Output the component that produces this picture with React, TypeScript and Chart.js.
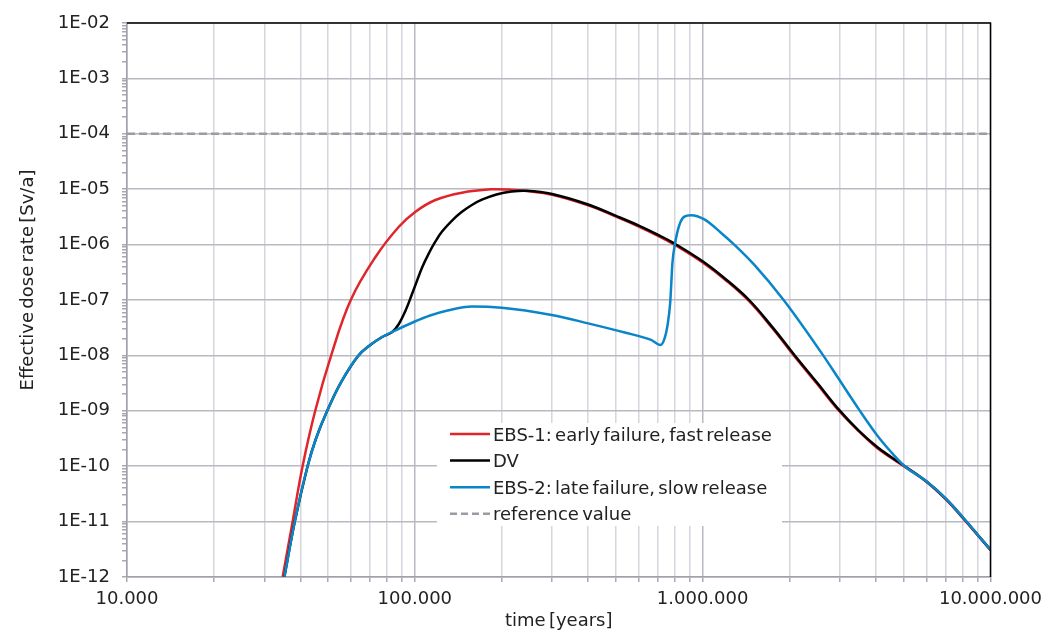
import React, { useEffect, useRef } from "react";
import { Chart, registerables } from "chart.js";

Chart.register(...registerables);

// ---- data (time in years, effective dose rate in Sv/a) ----
const ebs1Time = [34740, 37620, 40740, 45080, 51210, 59900, 73110, 88010, 100550, 117930, 145760, 185150, 211500, 244100, 300000, 400000, 500000, 600000, 700000, 800000, 1000000, 1200000, 1450000, 1750000, 2080000, 2500000, 2980000, 3500000, 4030000, 4500000, 5000000, 6000000, 7050000, 8050000, 10000000];
const ebs1Dose = [1e-12, 1e-11, 1e-10, 1e-9, 1e-8, 1e-7, 6.05e-7, 2.1e-6, 3.93e-6, 6.39e-6, 8.64e-6, 9.96e-6, 9.85e-6, 9.25e-6, 7.9e-6, 5.1e-6, 3.2e-6, 2.12e-6, 1.44e-6, 9.9e-7, 4.75e-7, 2.3e-7, 9.5e-8, 3.05e-8, 9.8e-9, 3.05e-9, 9.9e-10, 4.2e-10, 2.15e-10, 1.44e-10, 1.0e-10, 5.2e-11, 2.42e-11, 1.13e-11, 3.05e-12];

const dvTime = [35220, 38280, 42400, 45300, 49610, 55460, 63740, 70000, 77000, 83470, 88010, 92870, 97630, 100550, 105990, 111800, 117930, 124320, 134640, 145760, 157850, 171000, 192170, 216540, 244100, 300000, 400000, 500000, 600000, 700000, 800000, 1000000, 1200000, 1450000, 1750000, 2080000, 2500000, 2980000, 3500000, 4030000, 4500000, 5000000, 6000000, 7050000, 8050000, 10000000];
const dvDose = [1e-12, 1e-11, 1e-10, 3.1e-10, 1e-9, 3.3e-9, 1e-8, 1.54e-8, 2.15e-8, 2.65e-8, 3.69e-8, 6.46e-8, 1.257e-7, 1.88e-7, 3.86e-7, 6.91e-7, 1.14e-6, 1.72e-6, 2.72e-6, 3.91e-6, 5.19e-6, 6.46e-6, 8.02e-6, 9.05e-6, 9.35e-6, 8.2e-6, 5.3e-6, 3.3e-6, 2.2e-6, 1.5e-6, 1.04e-6, 5.0e-7, 2.4e-7, 1.0e-7, 3.2e-8, 1.03e-8, 3.2e-9, 1.04e-9, 4.3e-10, 2.24e-10, 1.48e-10, 1.03e-10, 5.3e-11, 2.5e-11, 1.16e-11, 3.1e-12];

const ebs2Time = [35220, 38280, 42400, 45300, 49610, 55460, 63740, 70000, 77000, 83470, 100000, 113000, 130000, 158000, 200000, 299000, 400000, 536000, 662000, 714000, 737000, 757000, 771000, 776000, 785000, 802000, 830000, 864000, 912000, 1014000, 1157000, 1290000, 1510000, 1920000, 2630000, 2930000, 3500000, 4030000, 4500000, 5000000, 6000000, 7050000, 8050000, 10000000];
const ebs2Dose = [1e-12, 1e-11, 1e-10, 3.1e-10, 1e-9, 3.3e-9, 1e-8, 1.54e-8, 2.15e-8, 2.65e-8, 4.09e-8, 5.25e-8, 6.46e-8, 7.63e-8, 7.26e-8, 5.36e-8, 3.79e-8, 2.59e-8, 1.9e-8, 1.54e-8, 2.0e-8, 3.8e-8, 8.7e-8, 1.5e-7, 4.6e-7, 1.05e-6, 2.26e-6, 3.2e-6, 3.4e-6, 2.85e-6, 1.64e-6, 9.9e-7, 4.34e-7, 9.7e-8, 9.8e-9, 4.2e-9, 1.04e-9, 3.67e-10, 1.84e-10, 1.03e-10, 5.3e-11, 2.5e-11, 1.16e-11, 3.1e-12];

const refTime = [10000, 10000000];
const refDose = [1e-4, 1e-4];

const xDecades = [1e4, 1e5, 1e6, 1e7];
const xTickLabels = ["10.000", "100.000", "1.000.000", "10.000.000"];
const yDecades = [1e-12, 1e-11, 1e-10, 1e-9, 1e-8, 1e-7, 1e-6, 1e-5, 1e-4, 1e-3, 1e-2];
const yTickLabels = ["1E-12", "1E-11", "1E-10", "1E-09", "1E-08", "1E-07", "1E-06", "1E-05", "1E-04", "1E-03", "1E-02"];
const minorSteps = [1, 2, 3, 4, 5, 6, 7, 8, 9];

const seriesLabels = ["EBS-1: early failure, fast release", "DV", "EBS-2: late failure, slow release", "reference value"];
const xTitle = "time [years]";
const yTitle = "Effective dose rate [Sv/a]";

const RED = "#e0252b";
const BLACK = "#000000";
const BLUE = "#0a86c8";
const GREY_REF = "#9b9ba3";

const FONT = "'DejaVu Sans', sans-serif";
const TEXT = "#222222";

function buildTicks(decades: number[]) {
  const out: { value: number; major: boolean }[] = [];
  decades.forEach((d, i) => {
    if (i === decades.length - 1) {
      out.push({ value: d, major: true });
    } else {
      minorSteps.forEach((k) => out.push({ value: d * k, major: k === 1 }));
    }
  });
  return out;
}

function labelFor(v: number, decades: number[], labels: string[]) {
  for (let i = 0; i < decades.length; i++) {
    if (Math.abs(Math.log10(v) - Math.log10(decades[i])) < 1e-6) return labels[i];
  }
  return "";
}

const toPoints = (xs: number[], ys: number[]) => xs.map((x, i) => ({ x, y: ys[i] }));

const frameAndLegend = {
  id: "frameAndLegend",
  afterDatasetsDraw(chart: any) {
    const { ctx, chartArea } = chart;
    ctx.save();
    // top and right frame
    ctx.strokeStyle = "#000";
    ctx.lineWidth = 1.5;
    ctx.beginPath();
    ctx.moveTo(chartArea.left, chartArea.top);
    ctx.lineTo(chartArea.right, chartArea.top);
    ctx.lineTo(chartArea.right, chartArea.bottom);
    ctx.stroke();

    // legend box
    const bx = 437, by = 423, bw = 345, bh = 103;
    ctx.fillStyle = "#ffffff";
    ctx.fillRect(bx, by, bw, bh);
    const items = [
      { label: seriesLabels[0], color: RED, dash: [] as number[] },
      { label: seriesLabels[1], color: BLACK, dash: [] as number[] },
      { label: seriesLabels[2], color: BLUE, dash: [] as number[] },
      { label: seriesLabels[3], color: GREY_REF, dash: [7, 4] },
    ];
    ctx.font = `18px ${FONT}`;
    (ctx as any).wordSpacing = "-2.5px";
    ctx.textBaseline = "middle";
    ctx.textAlign = "left";
    items.forEach((it, i) => {
      const y = 436 + i * 26.6;
      ctx.strokeStyle = it.color;
      ctx.lineWidth = 2.5;
      ctx.setLineDash(it.dash);
      ctx.beginPath();
      ctx.moveTo(450, y - 2);
      ctx.lineTo(490, y - 2);
      ctx.stroke();
      ctx.setLineDash([]);
      ctx.fillStyle = TEXT;
      ctx.fillText(it.label, 493, y);
    });

    // axis titles
    ctx.fillStyle = TEXT;
    ctx.textAlign = "center";
    ctx.fillText(xTitle, (chartArea.left + chartArea.right) / 2, 621);
    ctx.translate(28, 280);
    ctx.rotate(-Math.PI / 2);
    ctx.fillText(yTitle, 0, 0);
    (ctx as any).wordSpacing = "0px";
    ctx.restore();
  },
};

export default function App() {
  const ref = useRef<HTMLCanvasElement | null>(null);
  useEffect(() => {
    document.body.style.margin = "0";
    const canvas = ref.current;
    if (!canvas) return;
    const lineDs = (label: string, xs: number[], ys: number[], color: string, order: number, smooth: "tension" | "monotone") => ({
      label,
      data: toPoints(xs, ys),
      borderColor: color,
      backgroundColor: color,
      borderWidth: 2.5,
      pointRadius: 0,
      fill: false,
      tension: smooth === "tension" ? 0.4 : 0,
      cubicInterpolationMode: smooth === "monotone" ? ("monotone" as const) : ("default" as const),
      order,
    });
    const chart = new Chart(canvas, {
      type: "line",
      data: {
        datasets: [
          {
            label: seriesLabels[3],
            data: toPoints(refTime, refDose),
            borderColor: GREY_REF,
            borderWidth: 2.5,
            borderDash: [8, 4],
            pointRadius: 0,
            fill: false,
            order: 4,
          },
          lineDs(seriesLabels[0], ebs1Time, ebs1Dose, RED, 3, "tension"),
          lineDs(seriesLabels[1], dvTime, dvDose, BLACK, 2, "tension"),
          lineDs(seriesLabels[2], ebs2Time, ebs2Dose, BLUE, 1, "monotone"),
        ] as any,
      },
      options: {
        animation: false,
        responsive: false,
        devicePixelRatio: 1,
        layout: { padding: { left: 0, right: 55, top: 23, bottom: 0 } },
        plugins: { legend: { display: false }, tooltip: { enabled: false }, title: { display: false } },
        scales: {
          x: {
            type: "logarithmic",
            min: 1e4,
            max: 1e7,
            afterFit: (s: any) => { s.height = 56; },
            afterBuildTicks: (s: any) => { s.ticks = buildTicks(xDecades); },
            grid: {
              color: (c: any) => (c.tick && c.tick.major ? "#b9b9c1" : "#d6d6de"),
              tickColor: "#a8a8b0",
              lineWidth: 1.5,
              tickLength: 5,
            },
            border: { display: true, color: "#a0a0a8", width: 1.5 },
            ticks: {
              autoSkip: false,
              maxRotation: 0,
              padding: 7,
              color: TEXT,
              font: { family: FONT, size: 18 },
              callback: (v: any) => labelFor(Number(v), xDecades, xTickLabels),
            },
          },
          y: {
            type: "logarithmic",
            min: 1e-12,
            max: 1e-2,
            afterFit: (s: any) => { s.width = 127; },
            afterBuildTicks: (s: any) => { s.ticks = buildTicks(yDecades); },
            grid: {
              color: (c: any) => (c.tick && c.tick.major ? "#b9b9c1" : "rgba(0,0,0,0)"),
              tickColor: "#a8a8b0",
              lineWidth: 1.5,
              tickLength: 5,
            },
            border: { display: true, color: "#a0a0a8", width: 1.5 },
            ticks: {
              autoSkip: false,
              padding: 12,
              color: TEXT,
              font: { family: FONT, size: 18 },
              callback: (v: any) => labelFor(Number(v), yDecades, yTickLabels),
            },
          },
        },
      } as any,
      plugins: [frameAndLegend],
    });
    return () => chart.destroy();
  }, []);
  return (
    <div style={{ width: 1049, height: 633 }}>
      <canvas ref={ref} width={1049} height={633} style={{ display: "block" }} />
    </div>
  );
}
